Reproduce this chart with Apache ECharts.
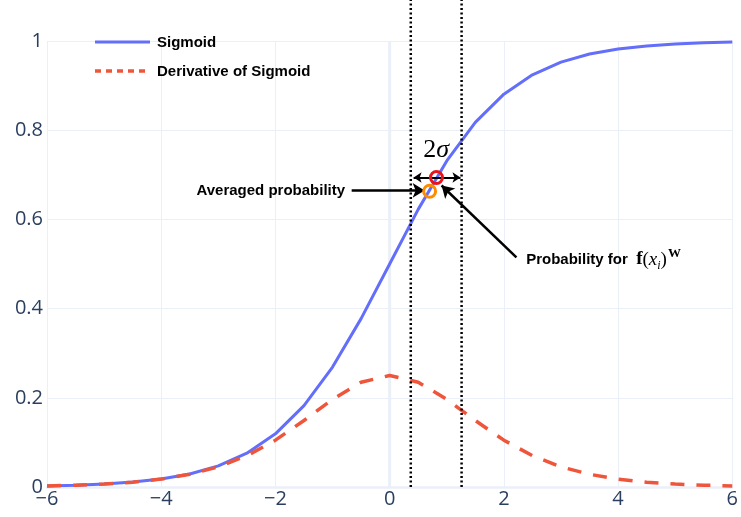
<!DOCTYPE html>
<html>
<head>
<meta charset="utf-8">
<script src="https://cdn.jsdelivr.net/npm/echarts@6/dist/echarts.min.js"></script>
<style>html,body{margin:0;padding:0;background:#fff}#c{width:741px;height:517px}</style>
</head>
<body>
<div id="c"></div>
<script>
// Data
var xValues = [-6,-5.5,-5,-4.5,-4,-3.5,-3,-2.5,-2,-1.5,-1,-0.5,0,0.5,1,1.5,2,2.5,3,3.5,4,4.5,5,5.5,6];
var sigmoidValues = [0.0025,0.0041,0.0067,0.0110,0.0180,0.0293,0.0474,0.0759,0.1192,0.1824,0.2689,0.3775,0.5,0.6225,0.7311,0.8176,0.8808,0.9241,0.9526,0.9707,0.9820,0.9890,0.9933,0.9959,0.9975];
var derivativeValues = [0.0025,0.0041,0.0066,0.0109,0.0177,0.0285,0.0452,0.0701,0.1050,0.1491,0.1966,0.2350,0.25,0.2350,0.1966,0.1491,0.1050,0.0701,0.0452,0.0285,0.0177,0.0109,0.0066,0.0041,0.0025];
var sigmaBounds = [0.37, 1.26];
var sampledPoint = [0.82, 0.694];
var averagedPoint = [0.70, 0.663];
var xTicks = [-6,-4,-2,0,2,4,6];
var yTicks = [0,0.2,0.4,0.6,0.8,1];
var legendNames = ['Sigmoid','Derivative of Sigmoid'];

function pairs(xs, ys){ return xs.map(function(x,i){ return [x, ys[i]]; }); }

var chart = echarts.init(document.getElementById('c'), null, {renderer:'canvas'});
var axisFont = {fontFamily:'"Open Sans", "DejaVu Sans", sans-serif', fontSize:20, color:'#2a3f5f'};
var grid = '#ebf0f8';
var sansBold = 'bold 15px "Liberation Sans", Arial, sans-serif';

var option = {
  animation:false,
  backgroundColor:'#fff',
  grid:{left:47, right:8, top:41, bottom:30, containLabel:false},
  xAxis:{
    type:'value', min:-6, max:6, interval:2,
    axisLine:{show:true, lineStyle:{color:grid, width:2.5}},
    axisTick:{show:false},
    axisLabel:Object.assign({margin:2, formatter:function(v){ return xTicks.indexOf(v)>=0 ? String(v).replace('-','\u2212') : ''; }}, axisFont),
    splitLine:{show:true, lineStyle:{color:grid, width:1}}
  },
  yAxis:{
    type:'value', min:0, max:1, interval:0.2,
    axisLine:{show:false}, axisTick:{show:false},
    axisLabel:Object.assign({margin:4, formatter:function(v){ return String(Math.round(v*10)/10); }}, axisFont),
    splitLine:{show:true, lineStyle:{color:grid, width:1}}
  },
  series:[
    {name:'zeroline', type:'line', data:[[0,0],[0,1]], symbol:'none', silent:true,
     lineStyle:{color:grid, width:3}, z:1},
    {name:legendNames[0], type:'line', data:pairs(xValues, sigmoidValues), symbol:'none', smooth:false,
     lineStyle:{color:'#636efa', width:3}, itemStyle:{color:'#636efa'}, z:3},
    {name:legendNames[1], type:'line', data:pairs(xValues, derivativeValues), symbol:'none',
     lineStyle:{color:'#EF553B', width:3.5, type:[14,12]}, itemStyle:{color:'#EF553B'}, z:4},
    {name:'lo', type:'line', data:[[sigmaBounds[0],0],[sigmaBounds[0],1.094]], symbol:'none', clip:false,
     lineStyle:{color:'#000', width:2.5, type:[2,2.5]}, z:5},
    {name:'hi', type:'line', data:[[sigmaBounds[1],0],[sigmaBounds[1],1.094]], symbol:'none', clip:false,
     lineStyle:{color:'#000', width:2.5, type:[2,2.5]}, z:5},
    {name:'arrows', type:'line', data:[], symbol:'none', z:6,
     markLine:{silent:true, animation:false, symbolSize:[11,12],
       label:{show:false},
       lineStyle:{color:'#000', width:2.5, type:'solid'},
       data:[
         [{coord:[-0.665,0.665], symbol:'none'},{coord:[0.613,0.665], symbol:'arrow'}],
         [{coord:[2.22,0.515], symbol:'none'},{coord:[0.91,0.676], symbol:'arrow'}]
       ]}
    },
    {name:'arrows2', type:'line', data:[], symbol:'none', z:6,
     markLine:{silent:true, animation:false, symbolSize:[8,8],
       label:{show:false},
       lineStyle:{color:'#000', width:2, type:'solid'},
       data:[
         [{coord:[0.42,0.694], symbol:'arrow'},{coord:[1.24,0.694], symbol:'arrow'}]
       ]}
    },
    {name:'points', type:'scatter', z:8, symbolSize:12,
     data:[
       {value:sampledPoint, itemStyle:{color:'rgba(255,255,255,0)', borderColor:'#e8141c', borderWidth:3, opacity:1}},
       {value:averagedPoint, itemStyle:{color:'rgba(255,255,255,0)', borderColor:'#ff8c00', borderWidth:3, opacity:1}}
     ]}
  ]
};
chart.setOption(option);

var pSig = chart.convertToPixel({gridIndex:0}, [0.815, 0.694]);
var pAvg = chart.convertToPixel({gridIndex:0}, [-0.78, 0.665]);
var pProb = chart.convertToPixel({gridIndex:0}, [2.39, 0.51]);
chart.setOption({graphic:[
  // legend
  {type:'line', shape:{x1:95, y1:42, x2:150, y2:42}, style:{stroke:'#636efa', lineWidth:3}, z:20},
  {type:'text', x:157, y:43, z:20, style:{text:legendNames[0], font:sansBold, fill:'#000', verticalAlign:'middle'}},
  {type:'line', shape:{x1:95, y1:71, x2:150, y2:71}, style:{stroke:'#EF553B', lineWidth:3.5, lineDash:[6,5]}, z:20},
  {type:'text', x:157, y:72, z:20, style:{text:legendNames[1], font:sansBold, fill:'#000', verticalAlign:'middle'}},
  // annotations
  {type:'text', x:pSig[0], y:pSig[1]-27, z:20,
   style:{text:'{n|2}{s|σ}', align:'center', verticalAlign:'middle',
     rich:{n:{fontFamily:'"Liberation Serif", "DejaVu Serif", serif', fontSize:26, fill:'#000'},
           s:{fontFamily:'"Liberation Serif", "DejaVu Serif", serif', fontStyle:'italic', fontSize:26, fill:'#000'}}}},
  {type:'text', x:pAvg[0], y:pAvg[1], z:20,
   style:{text:'Averaged probability', align:'right', verticalAlign:'middle', font:sansBold, fill:'#000'}},
  {type:'text', x:pProb[0], y:pProb[1], z:20,
   style:{text:'{t|Probability for  }{f|f}{p|(}{x|x}{i|i}{p|)}{w|W}', align:'left', verticalAlign:'middle',
     rich:{
       t:{fontFamily:'"Liberation Sans", Arial, sans-serif', fontWeight:'bold', fontSize:15, fill:'#000'},
       f:{fontFamily:'"Liberation Serif", serif', fontWeight:'bold', fontSize:19, fill:'#000'},
       p:{fontFamily:'"Liberation Serif", serif', fontSize:19, fill:'#000'},
       x:{fontFamily:'"Liberation Serif", serif', fontStyle:'italic', fontSize:19, fill:'#000'},
       i:{fontFamily:'"Liberation Serif", serif', fontStyle:'italic', fontSize:12, fill:'#000', verticalAlign:'bottom', padding:[9,0,0,0]},
       w:{fontFamily:'"Liberation Serif", serif', fontWeight:'bold', fontSize:13, fill:'#000', verticalAlign:'top', padding:[0,0,12,1]}
     }}}
]});
</script>
</body>
</html>
